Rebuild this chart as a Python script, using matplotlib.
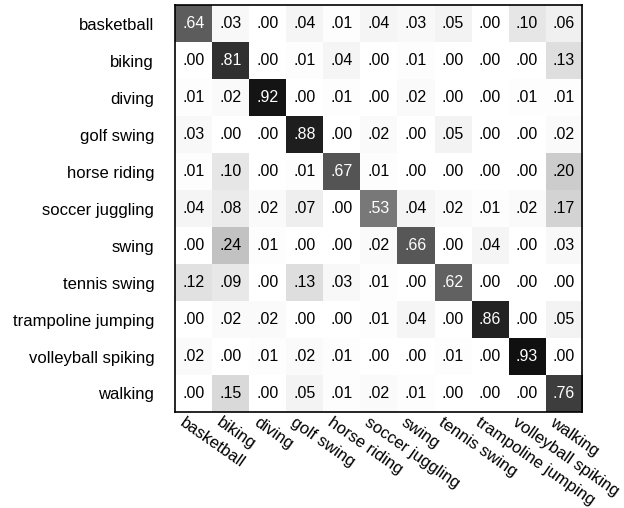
import numpy as np
import matplotlib
matplotlib.use("Agg")
import matplotlib.pyplot as plt
from matplotlib.transforms import ScaledTranslation

plt.rcParams['font.family'] = ['Liberation Sans', 'DejaVu Sans']

classes = ["basketball", "biking", "diving", "golf swing", "horse riding",
           "soccer juggling", "swing", "tennis swing", "trampoline jumping",
           "volleyball spiking", "walking"]

# rows = true class, columns = predicted class
conf = np.array([
    [.64, .03, .00, .04, .01, .04, .03, .05, .00, .10, .06],
    [.00, .81, .00, .01, .04, .00, .01, .00, .00, .00, .13],
    [.01, .02, .92, .00, .01, .00, .02, .00, .00, .01, .01],
    [.03, .00, .00, .88, .00, .02, .00, .05, .00, .00, .02],
    [.01, .10, .00, .01, .67, .01, .00, .00, .00, .00, .20],
    [.04, .08, .02, .07, .00, .53, .04, .02, .01, .02, .17],
    [.00, .24, .01, .00, .00, .02, .66, .00, .04, .00, .03],
    [.12, .09, .00, .13, .03, .01, .00, .62, .00, .00, .00],
    [.00, .02, .02, .00, .00, .01, .04, .00, .86, .00, .05],
    [.02, .00, .01, .02, .01, .00, .00, .01, .00, .93, .00],
    [.00, .15, .00, .05, .01, .02, .01, .00, .00, .00, .76],
])

fig = plt.figure(figsize=(6.24, 5.08), dpi=100)
ax = fig.add_axes([0.2804, 0.189, 0.6523, 0.801])
ax.imshow(conf, cmap='gray_r', vmin=0, vmax=1, aspect='auto', interpolation='nearest')

n = len(classes)
for i in range(n):
    for j in range(n):
        v = conf[i, j]
        txt = ("%.2f" % v)[1:]
        ax.text(j, i, txt, ha='center', va='center', fontsize=11.5,
                color='white' if v > 0.5 else 'black')

ax.set_xticks(range(n))
ax.set_yticks(range(n))
ax.set_yticklabels(classes, fontsize=12)
ax.set_xticklabels(classes, fontsize=12, rotation=-35, ha='left', va='top',
                   rotation_mode='anchor')
ax.tick_params(length=0)
ax.tick_params(axis='y', pad=15)
ax.tick_params(axis='x', pad=2)
shift = ScaledTranslation(-0.08, 0, fig.dpi_scale_trans)
for lab in ax.get_xticklabels():
    lab.set_transform(lab.get_transform() + shift)
for s in ax.spines.values():
    s.set_linewidth(1.2)

fig.savefig("out.png", dpi=100)
